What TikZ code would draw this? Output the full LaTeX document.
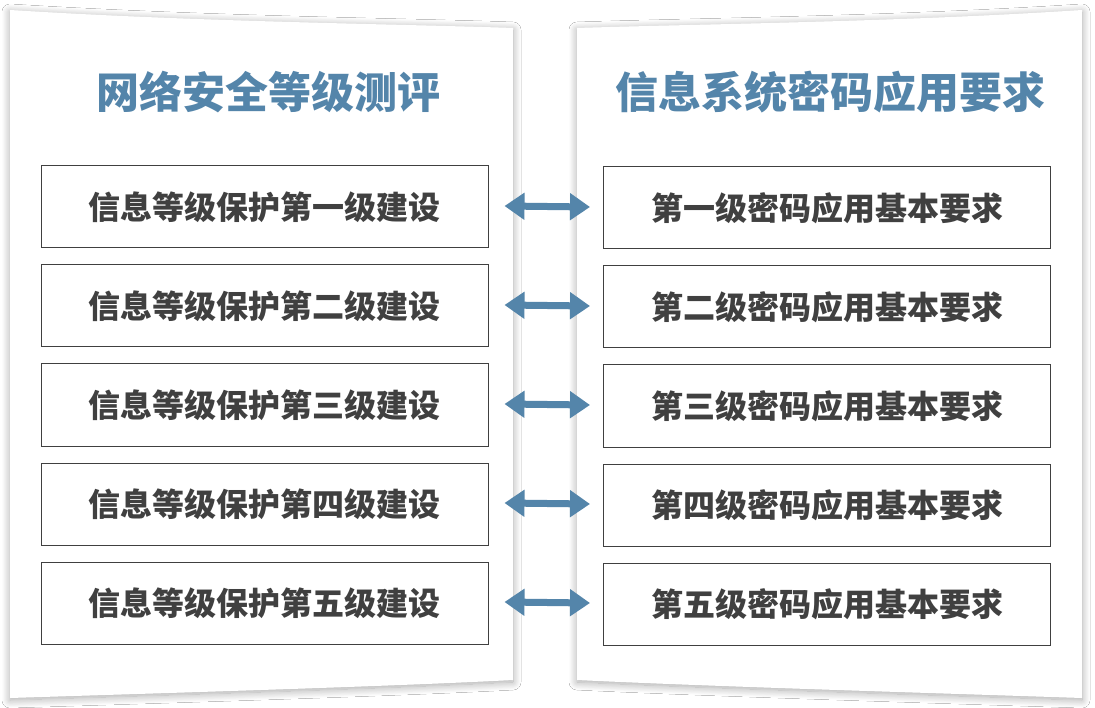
\documentclass[tikz,border=0pt]{standalone}
\usepackage{fontspec}
\newfontfamily\cjk{Noto Sans CJK SC}
\usetikzlibrary{arrows.meta,shadows.blur}
\definecolor{tblue}{HTML}{5485AA}
\definecolor{tgray}{HTML}{404040}
\begin{document}
\begin{tikzpicture}[x=1pt,y=-1pt,
  panel/.style={fill=white,draw=none,blur shadow={shadow blur steps=12,shadow xshift=0pt,shadow yshift=-2pt,shadow opacity=35,shadow blur radius=8pt}},
  item/.style={draw=tgray,line width=1pt,fill=white,minimum width=447pt,minimum height=82pt,inner sep=0pt,font=\cjk\bfseries\fontsize{32}{34}\selectfont,text=tgray},
  ttl/.style={font=\cjk\bfseries\fontsize{43}{46}\selectfont,text=tblue},
  link/.style={draw=tblue,line width=7pt,{Triangle[length=20pt,width=26pt]}-{Triangle[length=20pt,width=26pt]}}]
\useasboundingbox (0,0) rectangle (1095,708);
\fill[white] (0,0) rectangle (1095,708);
\fill[panel] (10,10) .. controls (200,22) and (400,24) .. (513,28) -- (513,680) .. controls (400,686) and (200,692) .. (10,698) -- cycle;
\fill[panel] (577,28) .. controls (700,24) and (900,22) .. (1082,10) -- (1082,698) .. controls (900,692) and (700,686) .. (577,680) -- cycle;
\node[ttl] (tl) at (268,92) {网络安全等级测评};
\node[ttl] (tr) at (830,92) {信息系统密码应用要求};
\foreach \i/\n/\y in {1/一/207,2/二/306,3/三/405,4/四/504,5/五/603}{
  \node[item] (l\i) at (264.5,\y) {信息等级保护第\n 级建设};
  \node[item] (r\i) at (827,\y+1) {第\n 级密码应用基本要求};
  \draw[link] ([xshift=-13pt,yshift=1pt]r\i.west) -- ([xshift=16pt,yshift=1pt]l\i.east);
}
\end{tikzpicture}
\end{document}
